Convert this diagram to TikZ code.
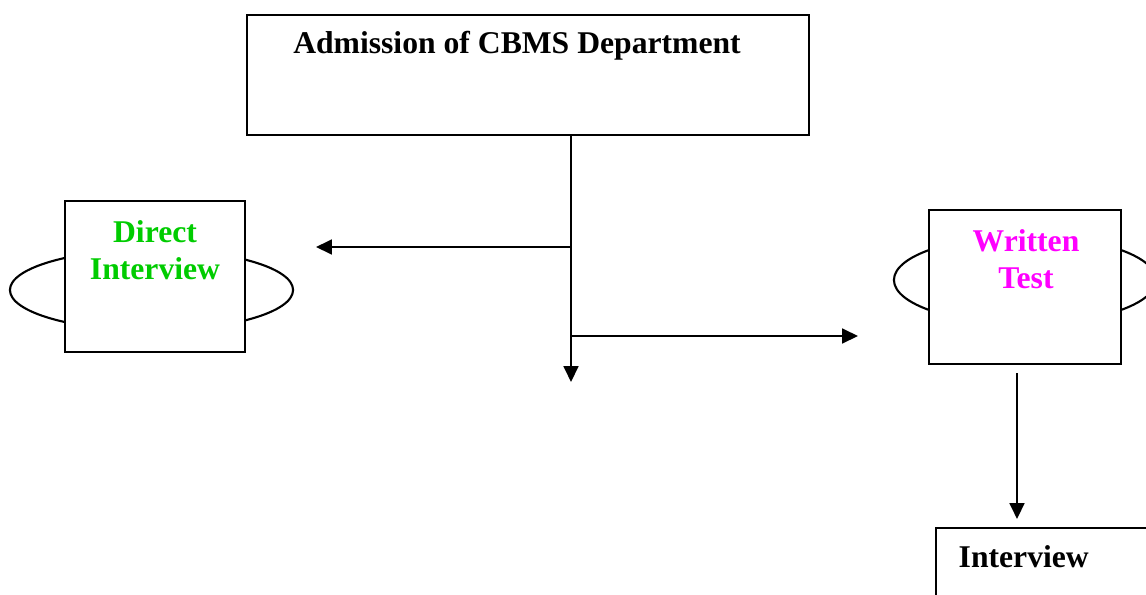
\documentclass[tikz,border=0pt]{standalone}
\usepackage{fontspec}
\setmainfont{Liberation Serif}
\usepackage{xcolor}
\usepackage{tikz}
\usetikzlibrary{arrows.meta,positioning,shapes.geometric}

\definecolor{dgreen}{RGB}{0,204,0}
\definecolor{dmagenta}{RGB}{255,0,255}

\begin{document}
\begin{tikzpicture}[
    x=0.01cm, y=-0.01cm,
    box/.style={rectangle, draw, line width=0.6pt, fill=white, inner sep=0pt},
    ring/.style={ellipse, draw, line width=0.6pt, inner sep=0pt},
    label/.style={font=\bfseries\fontsize{9}{10.5}\selectfont, align=center, inner sep=0pt},
    arrow/.style={-{Triangle[length=4.5pt,width=4.2pt]}, line width=0.6pt}
]
\clip (0,0) rectangle (1146,594);

% Admission
\node[box, minimum width=5.62cm, minimum height=1.2cm] (admission) at (528,75) {};
\node[label] (admission_text) at (517,46) {Admission of CBMS Department};

% Direct Interview
\node[ring, minimum width=2.83cm, minimum height=0.81cm] (direct_ring) at (151.5,290) {};
\node[box, minimum width=1.8cm, minimum height=1.51cm] (direct) at (155,276.5) {};
\node[label, text=dgreen] (direct_text) at (155,250) {Direct\\Interview};

% Written Test
\node[ring, minimum width=2.62cm, minimum height=0.88cm] (written_ring) at (1025,280) {};
\node[box, minimum width=1.92cm, minimum height=1.54cm] (written) at (1025,287) {};
\node[label, text=dmagenta] (written_text) at (1026,259) {Written\\Test};

% Interview
\node[box, minimum width=3cm, minimum height=1.2cm] (interview) at (1086,588) {};
\node[label, anchor=west] (interview_text) at (958,557) {Interview};

% Junctions
\coordinate (trunk_end) at (571,382);
\coordinate (left_join) at (571,247);
\coordinate (left_end) at (316,247);
\coordinate (right_join) at (571,336);
\coordinate (right_end) at (858,336);
\coordinate (interview_in) at (1017,519);

% Connections
\draw[arrow] (admission.south -| trunk_end) -- (trunk_end);
\draw[arrow] (left_join) -- (left_end);
\draw[arrow] (right_join) -- (right_end);
\draw[arrow] ([yshift=-0.08cm]written.south -| interview_in) -- (interview_in);

\end{tikzpicture}
\end{document}
